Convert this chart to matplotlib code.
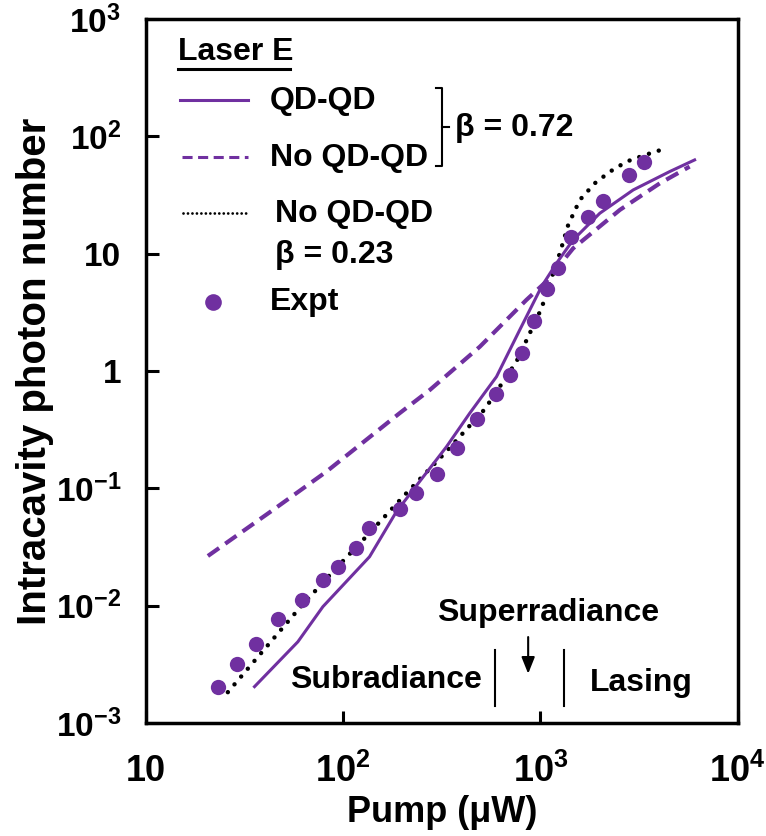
import numpy as np
import matplotlib
matplotlib.use("Agg")
import matplotlib.pyplot as plt
from matplotlib.lines import Line2D
from matplotlib.ticker import FixedLocator, FixedFormatter, NullLocator

plt.rcParams['font.family'] = ['Liberation Sans', 'DejaVu Sans']
plt.rcParams['font.weight'] = 'bold'
plt.rcParams['mathtext.fontset'] = 'custom'
plt.rcParams['mathtext.rm'] = 'Liberation Sans:bold'
plt.rcParams['mathtext.bf'] = 'Liberation Sans:bold'
plt.rcParams['mathtext.default'] = 'bf'

PURPLE = '#7030A0'

# Experimental intracavity photon number vs pump power
expt_pump = [23.1, 29.0, 36.2, 46.6, 62.0, 78.9, 94.0, 115.6, 135, 195, 235, 299,
             378, 477, 594, 699, 808, 929, 1074, 1226, 1422, 1746, 2066, 2820, 3346]
expt_photons = [0.00201, 0.00318, 0.00471, 0.00773, 0.01116, 0.01652, 0.0212, 0.0312,
                0.0461, 0.0662, 0.0907, 0.1324, 0.2207, 0.388, 0.637, 0.924, 1.415,
                2.68, 4.97, 7.60, 13.8, 20.7, 28.3, 46.9, 60.5]

# Model with QD-QD coupling, beta = 0.72
qd_pump = [35.5, 58.9, 78.9, 136, 186, 226, 334, 438, 599, 786, 1013, 1207, 1466,
           2002, 2955, 4520, 6055]
qd_photons = [0.00204, 0.00492, 0.0098, 0.0261, 0.0631, 0.0966, 0.226, 0.436, 0.894,
              2.24, 5.23, 8.28, 13.1, 22.1, 34.9, 50.0, 62.9]

# Model without QD-QD coupling, beta = 0.72
noqd_pump = [20.6, 44.0, 82.1, 193, 275, 493, 849, 1069, 1466, 2530, 4037, 5713]
noqd_photons = [0.0265, 0.0653, 0.1385, 0.436, 0.689, 1.61, 4.03, 5.77, 11.1, 23.6,
                39.8, 55.2]

# Model without QD-QD coupling, beta = 0.23
noqd23_pump = [26.0, 37.6, 58.9, 87.0, 128.4, 205, 327, 522, 756, 1013, 1255, 1384,
               1585, 1888, 2254, 2737, 3393, 4343]
noqd23_photons = [0.00183, 0.00379, 0.00918, 0.01886, 0.0375, 0.0877, 0.199, 0.472,
                  1.2, 3.42, 10.1, 17.6, 28.7, 39.8, 50.0, 60.9, 69.3, 79.1]

x_ticks = [10, 100, 1000, 10000]
x_ticklabels = ['10', r'$10^{2}$', r'$10^{3}$', r'$10^{4}$']
y_ticks = [1e-3, 1e-2, 1e-1, 1, 10, 100, 1000]
y_ticklabels = [r'$10^{-3}$', r'$10^{-2}$', r'$10^{-1}$', '1', '10', r'$10^{2}$', r'$10^{3}$']

fig = plt.figure(figsize=(7.66, 8.36), dpi=100)
ax = fig.add_axes([0.1906, 0.1352, 0.7723, 0.8421])

ax.plot(noqd23_pump, noqd23_photons, color='black', lw=3.2,
        linestyle=(0, (0.01, 2.3)), dash_capstyle='round', zorder=2)
ax.plot(noqd_pump, noqd_photons, color=PURPLE, lw=3.0,
        linestyle=(0, (3.3, 1.8)), zorder=3)
ax.plot(qd_pump, qd_photons, color=PURPLE, lw=2.2, zorder=3)
ax.plot(expt_pump, expt_photons, 'o', color=PURPLE, ms=11, mec='none', zorder=4)

ax.set_xscale('log')
ax.set_yscale('log')
ax.set_xlim(10, 10000)
ax.set_ylim(1e-3, 1e3)

ax.xaxis.set_major_locator(FixedLocator(x_ticks))
ax.xaxis.set_major_formatter(FixedFormatter(x_ticklabels))
ax.yaxis.set_major_locator(FixedLocator(y_ticks))
ax.yaxis.set_major_formatter(FixedFormatter(y_ticklabels))
ax.xaxis.set_minor_locator(NullLocator())
ax.yaxis.set_minor_locator(NullLocator())
ax.tick_params(axis='both', which='major', direction='in', length=9, width=2.2,
               top=False, right=False)
ax.tick_params(axis='x', labelsize=26, pad=22)
ax.tick_params(axis='y', labelsize=24, pad=18)
for s in ax.spines.values():
    s.set_linewidth(2.5)

ax.set_xlabel('Pump (μW)', fontsize=26, fontweight='bold', labelpad=4)
ax.set_ylabel('Intracavity photon number', fontsize=29, fontweight='bold', labelpad=1)

T = ax.transAxes
fs = 23

# Legend block drawn by hand
ax.text(0.054, 0.953, 'Laser E', transform=T, fontsize=fs, va='center', ha='left')
ax.add_line(Line2D([0.054, 0.243], [0.929, 0.929], transform=T, color='black', lw=2.2))

ax.add_line(Line2D([0.057, 0.172], [0.885, 0.885], transform=T, color=PURPLE, lw=2.2))
ax.text(0.210, 0.884, 'QD-QD', transform=T, fontsize=fs, va='center', ha='left')

ax.add_line(Line2D([0.061, 0.172], [0.804, 0.804], transform=T, color=PURPLE, lw=2.2,
                   linestyle=(0, (3.3, 1.8))))
ax.text(0.210, 0.803, 'No QD-QD', transform=T, fontsize=fs, va='center', ha='left')

ax.add_line(Line2D([0.490, 0.500, 0.500, 0.490], [0.902, 0.902, 0.791, 0.791],
                   transform=T, color='black', lw=1.5))
ax.add_line(Line2D([0.500, 0.512], [0.847, 0.847], transform=T, color='black', lw=1.5))
ax.text(0.522, 0.845, 'β = 0.72', transform=T, fontsize=fs, va='center', ha='left')

ax.add_line(Line2D([0.063, 0.176], [0.724, 0.724], transform=T, color='black', lw=2.0,
                   linestyle=(0, (0.01, 1.6)), dash_capstyle='round'))
ax.text(0.218, 0.723, 'No QD-QD', transform=T, fontsize=fs, va='center', ha='left')
ax.text(0.218, 0.665, 'β = 0.23', transform=T, fontsize=fs, va='center', ha='left')

ax.add_line(Line2D([0.113], [0.598], transform=T, marker='o', color=PURPLE, ms=12,
                   mec='none', linestyle='none'))
ax.text(0.210, 0.598, 'Expt', transform=T, fontsize=fs, va='center', ha='left')

# Regime annotations
ax.text(0.680, 0.156, 'Superradiance', transform=T, fontsize=fs, va='center', ha='center')
ax.annotate('', xy=(0.646, 0.066), xytext=(0.646, 0.126), xycoords=T, textcoords=T,
            arrowprops=dict(arrowstyle='-|>,head_length=1.0,head_width=0.4',
                            color='black', lw=1.5))
ax.add_line(Line2D([0.590, 0.590], [0.104, 0.024], transform=T, color='black', lw=1.5))
ax.add_line(Line2D([0.707, 0.707], [0.104, 0.024], transform=T, color='black', lw=1.5))
ax.text(0.568, 0.061, 'Subradiance', transform=T, fontsize=fs, va='center', ha='right')
ax.text(0.750, 0.057, 'Lasing', transform=T, fontsize=fs, va='center', ha='left')

fig.savefig('out.png', dpi=100)
